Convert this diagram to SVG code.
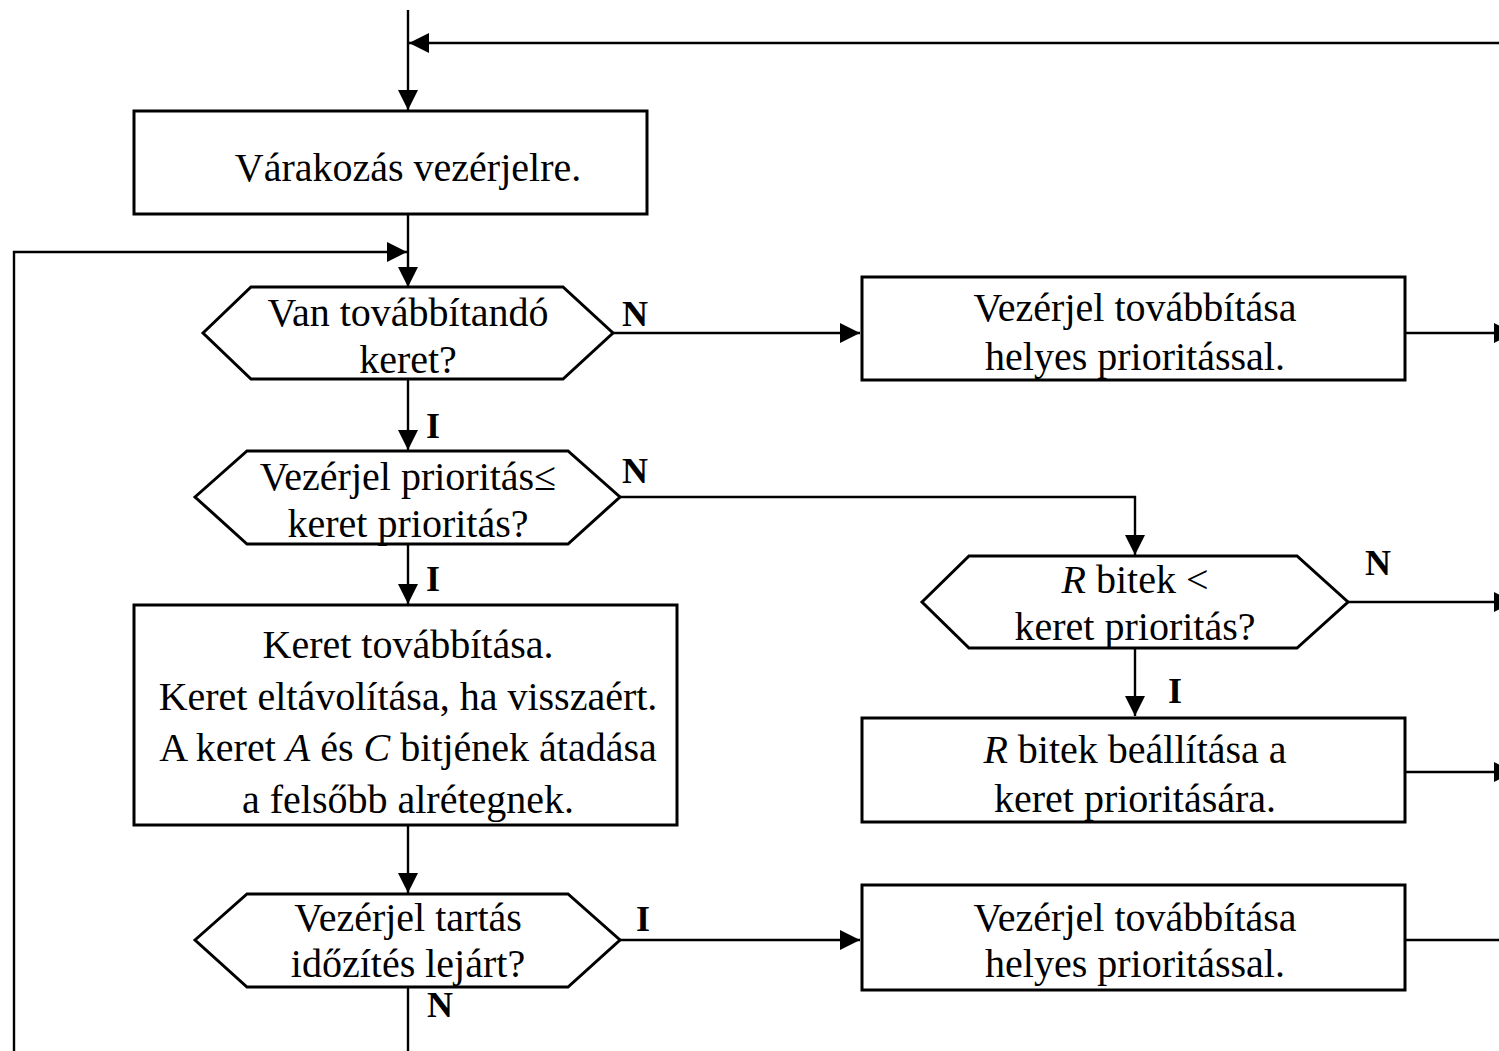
<svg xmlns="http://www.w3.org/2000/svg" width="1499" height="1051" viewBox="0 0 1499 1051">
  <style>
    .box { fill: #fff; stroke: #000; stroke-width: 3; }
    .wire { fill: none; stroke: #000; stroke-width: 2.4; }
    .arr { marker-end: url(#head); }
    text { font-family: "Liberation Serif", "Times New Roman", serif; font-size: 40px; fill: #000; text-anchor: middle; }
    .lbl { font-weight: bold; font-size: 36px; text-anchor: start; }
  </style>
  <defs>
    <marker id="head" markerUnits="userSpaceOnUse" markerWidth="21" markerHeight="21" refX="20" refY="10" orient="auto">
      <path d="M0,0 L20,10 L0,20 z" fill="#000"/>
    </marker>
  </defs>
  <rect width="1499" height="1051" fill="#fff"/>

  <g id="connectors">
    <line class="wire arr" x1="408" y1="10" x2="408" y2="110"/>
    <line class="wire arr" x1="1499" y1="43" x2="409" y2="43"/>
    <line class="wire arr" x1="408" y1="214" x2="408" y2="287"/>
    <polyline class="wire arr" points="14,1051 14,252 407,252"/>
    <line class="wire arr" x1="613" y1="333" x2="860" y2="333"/>
    <line class="wire arr" x1="1405" y1="333" x2="1514" y2="333"/>
    <line class="wire arr" x1="408" y1="380" x2="408" y2="450"/>
    <polyline class="wire arr" points="620,497 1135,497 1135,555"/>
    <line class="wire arr" x1="1348" y1="602" x2="1514" y2="602"/>
    <line class="wire arr" x1="1135" y1="648" x2="1135" y2="716"/>
    <line class="wire arr" x1="1405" y1="772" x2="1514" y2="772"/>
    <line class="wire arr" x1="408" y1="545" x2="408" y2="604"/>
    <line class="wire arr" x1="408" y1="825" x2="408" y2="893"/>
    <line class="wire arr" x1="620" y1="940" x2="860" y2="940"/>
    <line class="wire" x1="1405" y1="940" x2="1499" y2="940"/>
    <line class="wire" x1="408" y1="987" x2="408" y2="1051"/>
  </g>

  <g id="wait">
    <rect class="box" x="134" y="111" width="513" height="103"/>
    <text x="408" y="181">Várakozás vezérjelre.</text>
  </g>

  <g id="has-frame">
    <polygon class="box" points="203,333 251,287 563,287 613,333 563,379 251,379"/>
    <text x="408" y="326">Van továbbítandó</text>
    <text x="408" y="373">keret?</text>
    <text class="lbl" x="622" y="326">N</text>
    <text class="lbl" x="426" y="438">I</text>
  </g>

  <g id="pass-token-1">
    <rect class="box" x="862" y="277" width="543" height="103"/>
    <text x="1135" y="321">Vezérjel továbbítása</text>
    <text x="1135" y="370">helyes prioritással.</text>
  </g>

  <g id="priority-check">
    <polygon class="box" points="195,497 247,451 568,451 620,497 568,544 247,544"/>
    <text x="408" y="490">Vezérjel prioritás≤</text>
    <text x="408" y="537">keret prioritás?</text>
    <text class="lbl" x="622" y="483">N</text>
    <text class="lbl" x="426" y="591">I</text>
  </g>

  <g id="r-bits-check">
    <polygon class="box" points="922,602 969,556 1297,556 1348,602 1297,648 969,648"/>
    <text x="1135" y="593"><tspan font-style="italic">R</tspan> bitek &lt;</text>
    <text x="1135" y="640">keret prioritás?</text>
    <text class="lbl" x="1365" y="575">N</text>
    <text class="lbl" x="1168" y="703">I</text>
  </g>

  <g id="r-bits-set">
    <rect class="box" x="862" y="718" width="543" height="104"/>
    <text x="1135" y="763"><tspan font-style="italic">R</tspan> bitek beállítása a</text>
    <text x="1135" y="812">keret prioritására.</text>
  </g>

  <g id="send-frame">
    <rect class="box" x="134" y="605" width="543" height="220"/>
    <text x="408" y="658">Keret továbbítása.</text>
    <text x="408" y="710">Keret eltávolítása, ha visszaért.</text>
    <text x="408" y="761">A keret <tspan font-style="italic">A</tspan> és <tspan font-style="italic">C</tspan> bitjének átadása</text>
    <text x="408" y="813">a felsőbb alrétegnek.</text>
  </g>

  <g id="hold-timer">
    <polygon class="box" points="195,940 247,894 568,894 620,940 568,987 247,987"/>
    <text x="408" y="931">Vezérjel tartás</text>
    <text x="408" y="977">időzítés lejárt?</text>
    <text class="lbl" x="636" y="931">I</text>
    <text class="lbl" x="427" y="1017">N</text>
  </g>

  <g id="pass-token-2">
    <rect class="box" x="862" y="885" width="543" height="105"/>
    <text x="1135" y="931">Vezérjel továbbítása</text>
    <text x="1135" y="977">helyes prioritással.</text>
  </g>
</svg>
